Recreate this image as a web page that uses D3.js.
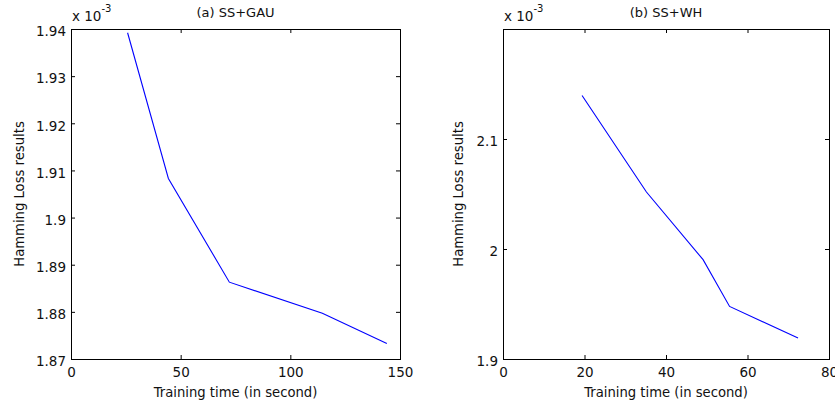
<!DOCTYPE html>
<html>
<head>
<meta charset="utf-8">
<script src="https://cdn.jsdelivr.net/npm/d3@7"></script>
<style>
  html, body { margin: 0; padding: 0; background: #fff; }
  svg text { font-family: "DejaVu Sans", "Liberation Sans", Arial, sans-serif; fill: #111; }
</style>
</head>
<body>
<svg id="chart" width="835" height="408"></svg>
<script>
// ---- data ----
const leftTitle = "(a) SS+GAU";
const leftX = [25.8, 44.4, 72.2, 114.6, 144];
const leftY = [1.9392, 1.9083, 1.8863, 1.8797, 1.8733];
const leftXTicks = [0, 50, 100, 150];
const leftYTicks = [1.87, 1.88, 1.89, 1.90, 1.91, 1.92, 1.93, 1.94];
const leftXDomain = [0, 150];
const leftYDomain = [1.87, 1.94];

const rightTitle = "(b) SS+WH";
const rightX = [19.4, 35.2, 49.1, 55.6, 72.4];
const rightY = [2.1396, 2.0518, 1.9903, 1.9478, 1.9191];
const rightXTicks = [0, 20, 40, 60, 80];
const rightYTicks = [1.9, 2.0, 2.1];
const rightXDomain = [0, 80];
const rightYDomain = [1.9, 2.2];

const xLabel = "Training time (in second)";
const yLabel = "Hamming Loss results";

const svg = d3.select("#chart");
const fmt = d => String(+d.toFixed(4));

function panel(cfg) {
  const {left, right, top, bottom} = cfg.box;
  const x = d3.scaleLinear().domain(cfg.xDomain).range([left, right]);
  const y = d3.scaleLinear().domain(cfg.yDomain).range([bottom, top]);
  const g = svg.append("g");
  const tl = 4;

  // data line
  const line = d3.line().x((d, i) => x(cfg.xs[i])).y((d, i) => y(cfg.ys[i]));
  g.append("path").datum(cfg.xs)
    .attr("d", line).attr("fill", "none")
    .attr("stroke", "#0000ff").attr("stroke-width", 1.1);

  // axes (inward ticks, mirrored)
  const axB = d3.axisBottom(x).tickValues(cfg.xTicks).tickSizeInner(-tl).tickSizeOuter(0).tickFormat(fmt);
  const axT = d3.axisTop(x).tickValues(cfg.xTicks).tickSizeInner(-tl).tickSizeOuter(0).tickFormat("");
  const axL = d3.axisLeft(y).tickValues(cfg.yTicks).tickSizeInner(-tl).tickSizeOuter(0).tickFormat(fmt);
  const axR = d3.axisRight(y).tickValues(cfg.yTicks).tickSizeInner(-tl).tickSizeOuter(0).tickFormat("");

  const gb = g.append("g").attr("transform", `translate(0,${bottom})`).call(axB);
  const gt = g.append("g").attr("transform", `translate(0,${top})`).call(axT);
  const gl = g.append("g").attr("transform", `translate(${left},0)`).call(axL);
  const gr = g.append("g").attr("transform", `translate(${right},0)`).call(axR);
  [gb, gt, gl, gr].forEach(a => {
    a.select(".domain").remove();
    a.selectAll("line").attr("stroke", "#000");
  });
  gb.selectAll("text").attr("font-size", 13.5).attr("y", 8).attr("dy", "0.71em").attr("fill", "#111");
  gl.selectAll("text").attr("font-size", 13.5).attr("x", -5).attr("dy", "0.5em").attr("fill", "#111");

  // box
  g.append("rect").attr("x", left + 0.5).attr("y", top + 0.5)
    .attr("width", right - left).attr("height", bottom - top)
    .attr("fill", "none").attr("stroke", "#000").attr("stroke-width", 1);

  const cx = (left + right) / 2;
  // title
  g.append("text").attr("x", cx).attr("y", 17).attr("text-anchor", "middle")
    .attr("font-size", 13).text(cfg.title);
  // exponent
  const ex = g.append("text").attr("x", left + 1).attr("y", 21).attr("font-size", 13.5);
  ex.append("tspan").text("x 10");
  ex.append("tspan").attr("dy", -9).attr("font-size", 10).text("-3");
  // x label
  g.append("text").attr("x", cx).attr("y", 397).attr("text-anchor", "middle")
    .attr("font-size", 13.2).text(xLabel);
  // y label
  g.append("text").attr("transform", `translate(${cfg.yLabelX},${(top + bottom) / 2}) rotate(-90)`)
    .attr("text-anchor", "middle").attr("font-size", 13.2).text(yLabel);
}

panel({
  box: {left: 71, right: 400, top: 29, bottom: 359},
  xDomain: leftXDomain, yDomain: leftYDomain,
  xTicks: leftXTicks, yTicks: leftYTicks,
  xs: leftX, ys: leftY, title: leftTitle, yLabelX: 24
});
panel({
  box: {left: 503, right: 829, top: 29, bottom: 359},
  xDomain: rightXDomain, yDomain: rightYDomain,
  xTicks: rightXTicks, yTicks: rightYTicks,
  xs: rightX, ys: rightY, title: rightTitle, yLabelX: 463
});
</script>
</body>
</html>
